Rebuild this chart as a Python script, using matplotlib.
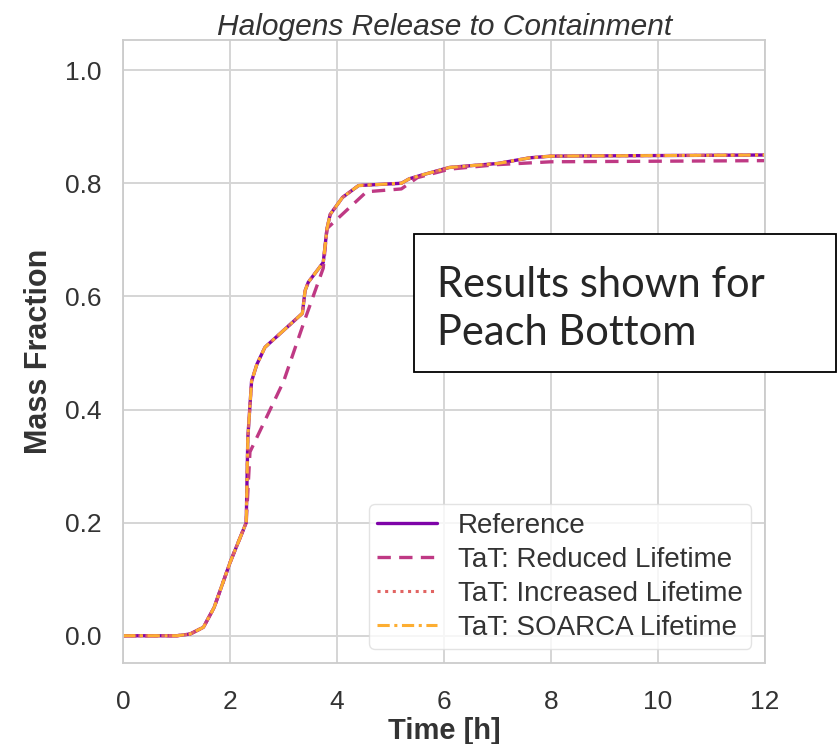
import numpy as np
import matplotlib
matplotlib.use("Agg")
import matplotlib.pyplot as plt
from matplotlib.patches import Rectangle
import seaborn as sns

# values
t_ref = [0, 1.0, 1.25, 1.5, 1.7, 2.0, 2.3, 2.33, 2.4, 2.5, 2.65, 3.0, 3.35, 3.4,
         3.46, 3.74, 3.81, 3.87, 4.1, 4.4, 5.2, 5.35, 5.6, 6.1, 7.0, 7.6, 8.0, 12]
y_ref = [0, 0, 0.003, 0.015, 0.05, 0.13, 0.2, 0.35, 0.45, 0.48, 0.51, 0.54, 0.57, 0.61,
         0.625, 0.66, 0.72, 0.745, 0.775, 0.796, 0.80, 0.808, 0.815, 0.828, 0.835, 0.845, 0.848, 0.85]

t_red = [0, 1.0, 1.25, 1.5, 1.7, 2.0, 2.3, 2.37, 3.0, 3.4, 3.74, 3.81, 4.55, 5.2,
         5.5, 6.1, 7.0, 8.0, 12]
y_red = [0, 0, 0.003, 0.015, 0.05, 0.13, 0.2, 0.325, 0.45, 0.56, 0.65, 0.72, 0.785, 0.79,
         0.81, 0.825, 0.833, 0.838, 0.84]

t_inc = t_ref
y_inc = y_ref
t_soa = t_ref
y_soa = y_ref

note_lines = ["Results shown for", "Peach Bottom"]

sns.set_style("whitegrid")
plt.rcParams["font.family"] = ["Liberation Sans", "DejaVu Sans"]

fig = plt.figure(figsize=(8.38, 7.44), dpi=100)
ax = fig.add_axes([0.147, 0.109, 0.766, 0.837])

pal = plt.get_cmap("plasma")
ax.plot(t_ref, y_ref, color=pal(0.25), lw=2.4, label="Reference")
ax.plot(t_red, y_red, color=pal(0.45), lw=2.4, ls=(0, (4, 2.5)), label="TaT: Reduced Lifetime")
ax.plot(t_inc, y_inc, color=pal(0.6), lw=2.2, ls=(0, (1, 1.5)), label="TaT: Increased Lifetime")
ax.plot(t_soa, y_soa, color=pal(0.82), lw=2.2, ls=(0, (4, 1.5, 1, 1.5)), label="TaT: SOARCA Lifetime")

ax.set_xlim(0, 12)
ax.set_ylim(-0.048, 1.053)
ax.set_xticks(np.arange(0, 13, 2))
ax.set_yticks(np.arange(0, 1.01, 0.2))
ax.tick_params(labelsize=19, colors="#333333")
ax.tick_params(axis="x", pad=16)
ax.tick_params(axis="y", pad=12)
for s in ax.spines.values():
    s.set_color("#cccccc")
    s.set_linewidth(1.3)
ax.grid(color="#d5d5d5", lw=1.4)

ax.set_title("Halogens Release to Containment", fontsize=21.5, style="italic", color="#333333", pad=4)
ax.set_xlabel("Time [h]", fontsize=21, fontweight="bold", color="#333333", labelpad=2)
ax.set_ylabel("Mass Fraction", fontsize=22, fontweight="bold", color="#333333", labelpad=8)

leg = ax.legend(loc="lower right", fontsize=20, frameon=True, handlelength=2.15,
                handletextpad=0.75, borderaxespad=0.5, labelspacing=0.29, borderpad=0.3)
leg.get_frame().set_edgecolor("#dddddd")
for txt in leg.get_texts():
    txt.set_color("#333333")

# annotation box on top of the chart
fig.patches.append(Rectangle((0.494, 0.5), 0.5036, 0.1855, transform=fig.transFigure,
                             fc="white", ec="black", lw=1.3, zorder=10))
for i, line in enumerate(note_lines):
    fig.text(0.5215, 1 - (297 + 48 * i) / 744, line, fontsize=30, family="Lato",
             ha="left", va="baseline", zorder=11)

fig.savefig("out.png", dpi=100)
